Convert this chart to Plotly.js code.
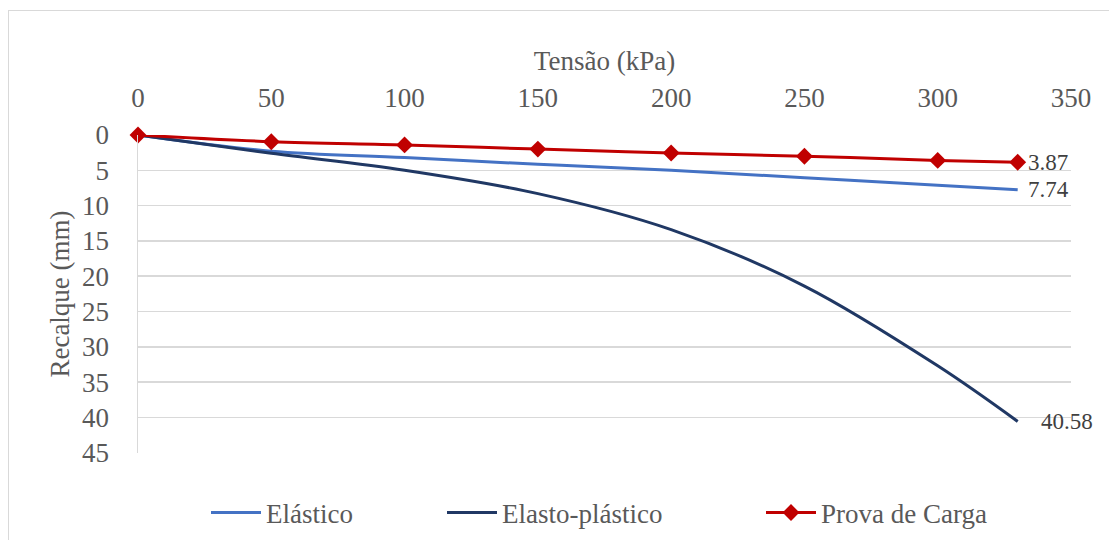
<!DOCTYPE html>
<html>
<head>
<meta charset="utf-8">
<script src="https://cdn.plot.ly/plotly-3.0.1.min.js"></script>
<style>
html,body{margin:0;padding:0;background:#fff;}
#chart{width:1109px;height:540px;}
#frame{position:absolute;left:8px;top:10px;width:1200px;height:600px;border:1.5px solid #d9d9d9;pointer-events:none;}
</style>
</head>
<body>
<div id="chart"></div>
<div id="frame"></div>
<script>
const tensao = [0, 50, 100, 150, 200, 250, 300, 330];
const elastico = [0, 2.3, 3.2, 4.15, 5.0, 6.05, 7.13, 7.74];
const elastoPlastico = [0, 2.6, 5.0, 8.3, 13.4, 21.4, 32.7, 40.58];
const provaCarga = [0, 0.95, 1.4, 2.0, 2.55, 3.0, 3.6, 3.87];
const seriesNames = ["Elástico", "Elasto-plástico", "Prova de Carga"];
const xTicks = [0, 50, 100, 150, 200, 250, 300, 350];
const yTicks = [0, 5, 10, 15, 20, 25, 30, 35, 40, 45];

const FAM = "Liberation Serif";

const traces = [
  {x: tensao, y: elastico, name: seriesNames[0], type: "scatter", mode: "lines",
   line: {color: "#4472C4", width: 3, shape: "spline"}, legend: "legend", cliponaxis: false},
  {x: tensao, y: elastoPlastico, name: seriesNames[1], type: "scatter", mode: "lines",
   line: {color: "#203864", width: 3, shape: "spline"}, legend: "legend2", cliponaxis: false},
  {x: tensao, y: provaCarga, name: seriesNames[2], type: "scatter", mode: "lines+markers",
   line: {color: "#C00000", width: 3, shape: "spline"},
   marker: {symbol: "diamond", size: 13, color: "#C00000"}, legend: "legend3", cliponaxis: false}
];

const n = tensao.length - 1;
const endLabels = [
  {y: provaCarga[n], xshift: 8},
  {y: elastico[n], xshift: 8},
  {y: elastoPlastico[n], xshift: 21}
].map(o => ({
  x: tensao[n], y: o.y, xref: "x", yref: "y", text: String(o.y),
  showarrow: false, xanchor: "left", yanchor: "middle", xshift: o.xshift,
  font: {family: FAM, size: 23, color: "#404040"}
}));

function leg(xpx) {
  return {
    orientation: "h", x: xpx / 1109, xanchor: "left", xref: "container",
    y: (540 - 513) / 540, yanchor: "middle", yref: "container",
    font: {family: FAM, size: 27, color: "#595959"}, itemwidth: 50
  };
}

const layout = {
  width: 1109, height: 540,
  margin: {l: 138, r: 38, t: 135, b: 87},
  showlegend: true,
  legend: leg(206),
  legend2: leg(442),
  legend3: leg(761),
  xaxis: {
    side: "top", range: [0, 350], tickvals: xTicks, ticktext: xTicks.map(String),
    showgrid: false, zeroline: false, showline: false,
    ticks: "outside", ticklen: 16, tickcolor: "rgba(0,0,0,0)",
    tickfont: {family: FAM, size: 27, color: "#595959"},
    title: {text: "Tensão (kPa)", font: {family: FAM, size: 27, color: "#595959"}, standoff: 4}
  },
  yaxis: {
    range: [45.05, 0], tickvals: yTicks, ticktext: yTicks.map(String),
    showgrid: true, gridcolor: "#d9d9d9", gridwidth: 1.5,
    zeroline: false, showline: true, linecolor: "#d9d9d9", linewidth: 1.5,
    ticks: "outside", ticklen: 22, tickcolor: "rgba(0,0,0,0)",
    tickfont: {family: FAM, size: 27, color: "#595959"},
    title: {text: "Recalque (mm)", font: {family: FAM, size: 27, color: "#595959"}, standoff: 4}
  },
  annotations: endLabels
};

Plotly.newPlot("chart", traces, layout, {staticPlot: true});
</script>
</body>
</html>
